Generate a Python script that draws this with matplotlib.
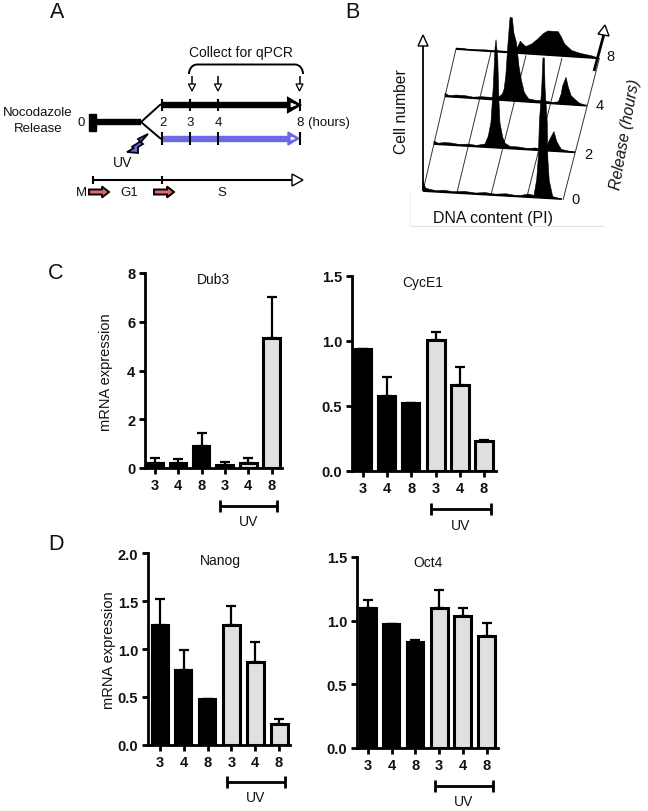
import numpy as np
import matplotlib
matplotlib.use('Agg')
import matplotlib.pyplot as plt
from matplotlib.patches import Polygon

plt.rcParams['font.family'] = ['Liberation Sans', 'DejaVu Sans']

W, H = 648, 812

time_labels = ['3', '4', '8', '3', '4', '8']

dub3_values = [0.2, 0.2, 0.9, 0.12, 0.22, 5.35]
dub3_tops = [0.42, 0.37, 1.42, 0.25, 0.42, 7.03]
cyce1_values = [0.94, 0.58, 0.52, 1.01, 0.66, 0.23]
cyce1_tops = [0.94, 0.72, 0.52, 1.07, 0.80, 0.24]
nanog_values = [1.25, 0.78, 0.48, 1.25, 0.86, 0.22]
nanog_tops = [1.52, 0.99, 0.48, 1.45, 1.07, 0.27]
oct4_values = [1.10, 0.97, 0.83, 1.10, 1.04, 0.88]
oct4_tops = [1.16, 0.97, 0.85, 1.24, 1.10, 0.98]

# flow cytometry profiles: position along the baseline (0-1), height
row0_u = [0, .01, .02, .05, .1, .15, .22, .3, .38, .45, .52, .6, .66, .7, .76, .80, .82, .832, .839, .856, .865, .875, .88, .896, .90, .91, .935, .96, 1]
row0_h = [9, 6, 3, 2, 1, 2, 1, 2, 1, 2, 1, 2, 1, 1, 3, 2, 18, 42, 75, 110, 140, 140, 110, 75, 40, 18, 2, 1, 0]
row2_u = [0, .03, .07, .12, .18, .25, .3, .362, .385, .404, .42, .433, .44, .452, .461, .468, .487, .504, .54, .6, .66, .72, .78, .80, .816, .851, .87, .89, .905, .95, 1]
row2_h = [3, 1, 2, 2, 1, 2, 1, 3, 11, 25, 60, 100, 108, 90, 45, 25, 11, 5, 2, 2, 1, 2, 1, 3, 10, 19.5, 10, 5, 2, 1, 0]
row4_u = [0, .03, .08, .14, .2, .26, .32, .38, .405, .417, .429, .445, .459, .475, .486, .505, .522, .538, .56, .59, .64, .7, .76, .80, .82, .83, .854, .87, .89, .93, .95, 1]
row4_h = [3, 1, 2, 2, 1, 2, 2, 3, 6, 11, 24, 58, 83, 83, 68, 58, 35, 22, 9, 3, 2, 2, 1, 2, 10, 18, 27, 17.5, 9, 4, 2, 0]
row8_u = [0, .05, .1, .2, .3, .38, .42, .435, .45, .47, .49, .53, .57, .61, .643, .68, .715, .74, .76, .81, .86, .9, .95, 1]
row8_h = [1, 1, 0, 1, 1, 1, 3, 7, 12, 9, 7, 10, 15, 21, 24, 24, 24, 18, 12, 6, 4, 3, 2, 0]
row_labels = ['0', '2', '4', '8']

fig = plt.figure(figsize=(W / 100, H / 100), dpi=100)
ov = fig.add_axes([0, 0, 1, 1])
ov.set_xlim(0, W)
ov.set_ylim(H, 0)
ov.axis('off')


def txt(x, y, s, size=9.5, **kw):
    kw.setdefault('ha', 'center')
    kw.setdefault('va', 'center')
    ov.text(x, y, s, fontsize=size, color=kw.pop('color', '#111111'), **kw)


def line(xs, ys, lw=1.0, color='black', z=2, **kw):
    ov.plot(xs, ys, lw=lw, color=color, zorder=z, solid_capstyle='butt', **kw)


def poly(pts, fc, ec='black', lw=1.0, z=3):
    ov.add_patch(Polygon(pts, closed=True, fc=fc, ec=ec, lw=lw, zorder=z))


def bar_panel(left, right, y0, ytop, c0, sp, bw, ymax, yticks, ylabels, values, tops):
    ax = fig.add_axes([left / W, 1 - y0 / H, (right - left) / W, (y0 - ytop) / H])
    ax.patch.set_alpha(0)
    x = np.arange(len(values))
    width = bw / sp
    ax.bar(x[:3], values[:3], width, color='black', edgecolor='black', linewidth=1.5, zorder=3)
    ax.bar(x[3:], values[3:], width, color='#e0e0e0', edgecolor='black', linewidth=2.2, zorder=3)
    lower = np.zeros(len(values))
    upper = np.array(tops) - np.array(values)
    ax.errorbar(x, values, yerr=[lower, upper], fmt='none', ecolor='black',
                elinewidth=1.6, capsize=3.6, capthick=1.6, zorder=2)
    ax.set_xlim((left - c0) / sp, (right - c0) / sp)
    ax.set_ylim(0, ymax)
    ax.set_xticks(x)
    ax.set_xticklabels(time_labels)
    ax.set_yticks(yticks)
    ax.set_yticklabels(ylabels)
    for s in ['top', 'right']:
        ax.spines[s].set_visible(False)
    for s in ['left', 'bottom']:
        ax.spines[s].set_linewidth(2.0)
    ax.tick_params(axis='both', width=2.0, length=4.5, pad=2.5, labelsize=10.5)
    for t in ax.get_xticklabels() + ax.get_yticklabels():
        t.set_fontweight('bold')
        t.set_color('#111111')
    return ax


def uv_bracket(x0, x1, y, ty):
    line([x0, x1], [y, y], lw=2.0)
    line([x0, x0], [y - 6, y + 6], lw=2.0)
    line([x1, x1], [y - 6, y + 6], lw=2.0)
    txt((x0 + x1) / 2, ty, 'UV', size=10)


# panels C and D
bar_panel(145, 282, 469, 274, 155, 23.3, 17, 8, [0, 2, 4, 6, 8], ['0', '2', '4', '6', '8'], dub3_values, dub3_tops)
bar_panel(352, 496, 472, 277, 363, 24.2, 18, 1.5, [0, .5, 1, 1.5], ['0.0', '0.5', '1.0', '1.5'], cyce1_values, cyce1_tops)
bar_panel(148, 290, 746, 554, 160, 23.8, 17, 2.0, [0, .5, 1, 1.5, 2], ['0.0', '0.5', '1.0', '1.5', '2.0'], nanog_values, nanog_tops)
bar_panel(357, 498, 749, 558, 368, 23.7, 17, 1.5, [0, .5, 1, 1.5], ['0.0', '0.5', '1.0', '1.5'], oct4_values, oct4_tops)

txt(213, 280, 'Dub3', size=10)
txt(423, 283, 'CycE1', size=10)
txt(220, 561, 'Nanog', size=10)
txt(428, 563, 'Oct4', size=10)
txt(106, 372, 'mRNA expression', size=10.5, rotation=90)
txt(109, 650, 'mRNA expression', size=10.5, rotation=90)
uv_bracket(220, 277, 507, 522)
uv_bracket(431, 491, 510, 526)
uv_bracket(227, 285, 783, 798)
uv_bracket(435, 493, 787, 802)

# panel letters
txt(57, 12, 'A', size=15.5)
txt(352, 12, 'B', size=15.5)
txt(56, 274, 'C', size=15.5)
txt(56, 545, 'D', size=15.5)

# panel A: timeline
blue = '#6a6ae6'
poly([(89, 115), (96, 115), (96, 132), (89, 132)], 'black')
line([96, 141], [123, 123], lw=4.6)
line([141, 161], [123, 105], lw=1.4)
line([141, 161], [123, 140], lw=1.4)
line([162, 290], [106, 106], lw=4.6)
poly([(288, 99), (288, 113), (300, 106)], 'black', lw=1.5)
poly([(291, 104), (291, 108), (296, 106)], 'white', ec='white', lw=0.5, z=4)
line([162, 290], [139.5, 139.5], lw=4.6, color=blue)
poly([(288, 133), (288, 146), (299, 139.5)], blue, ec=blue)
poly([(291, 138), (291, 141), (295, 139.5)], 'white', ec='white', lw=0.5, z=4)
for x in [162, 190, 218, 300]:
    line([x, x], [100, 112], lw=1.5, z=5)
    line([x, x], [133, 146], lw=1.5, z=5)
for x in [192, 218, 299.5]:
    line([x, x], [77, 86], lw=1.1)
    poly([(x - 3.5, 85), (x + 3.5, 85), (x, 92)], 'white', lw=0.9)
br_t = np.linspace(0, np.pi / 2, 12)
line(np.r_[197 - 8 * np.cos(br_t), 295 + 8 * np.cos(br_t)[::-1]],
     np.r_[75 - 9.5 * np.sin(br_t), 75 - 9.5 * np.sin(br_t)[::-1]],
     lw=1.4)
txt(241, 53, 'Collect for qPCR', size=10)
txt(38, 113, 'Nocodazole', size=9.5)
txt(38, 129, 'Release', size=9.5)
txt(81, 123, '0')
txt(163, 123, '2')
txt(190, 123, '3')
txt(218, 123, '4')
txt(297, 123, '8 (hours)', ha='left')
poly([(148, 135), (138, 140), (140, 142.7), (131.7, 148), (134, 149), (127, 153),
      (138, 154), (138, 148), (143, 145), (140.7, 143)], blue, lw=1.3)
txt(123, 163, 'UV', size=10)
line([93, 292], [181, 181], lw=1.5)
line([93, 93], [177, 185], lw=1.5)
line([162, 162], [177, 185], lw=1.5)
poly([(292, 175), (292, 187), (303, 181)], 'white', lw=1.0)
txt(81, 193, 'M')
txt(129, 193, 'G1')
txt(222, 193, 'S')
for x in [89, 154]:
    poly([(x, 190.5), (x + 13, 190.5), (x + 13, 187.5), (x + 20, 193), (x + 13, 198.5),
          (x + 13, 195.5), (x, 195.5)], '#e46a68', lw=1.4)

# panel B: DNA content histograms
base_start = [(423, 192), (434, 145), (445, 97.3), (456, 50)]
base_end = [(561.7, 200), (575, 153.3), (586.7, 106.7), (599, 59.3)]
profiles = [(row0_u, row0_h), (row2_u, row2_h), (row4_u, row4_h), (row8_u, row8_h)]
grid_bottom = [(423, 192), (457, 193.5), (491, 196), (527, 197.5), (563, 201)]
grid_top = [(456, 50), (491, 53), (526, 56.5), (562, 59), (599.5, 59)]
for b, t in zip(grid_bottom, grid_top):
    line([b[0], t[0]], [b[1], t[1]], lw=0.7, color='#333333', z=1)
for (x0, y0), (x1, y1), (u, h) in zip(base_start, base_end, profiles):
    u = np.array(u)
    h = np.array(h)
    xs = x0 + u * (x1 - x0)
    ys = y0 + u * (y1 - y0)
    ov.fill(np.r_[xs, xs[::-1]], np.r_[ys - h, ys[::-1]], color='black', lw=0.4, zorder=3)
    line([x0, x1], [y0, y1], lw=1.3, z=3)
line([423, 423], [192, 46], lw=1.3)
poly([(418, 47), (428, 47), (423, 36)], 'white', lw=1.0)
line([594, 604], [72, 35], lw=2.0)
poly([(598, 35), (609, 37), (605, 26)], 'white', lw=1.0)
for (x, y), s in zip([(576, 200), (588, 155), (600, 106), (610, 57)], row_labels):
    txt(x, y, s, size=10.5)
txt(402, 112, 'Cell number', size=11.3, rotation=90)
txt(625, 135, 'Release (hours)', size=11.3, rotation=80, style='italic')
txt(493, 219, 'DNA content (PI)', size=11.5)
line([410, 604], [226.5, 226.5], lw=0.6, color='#dddddd', z=1)
line([410, 410], [192, 226.5], lw=0.6, color='#eeeeee', z=1)

fig.savefig('out.png', dpi=100)
